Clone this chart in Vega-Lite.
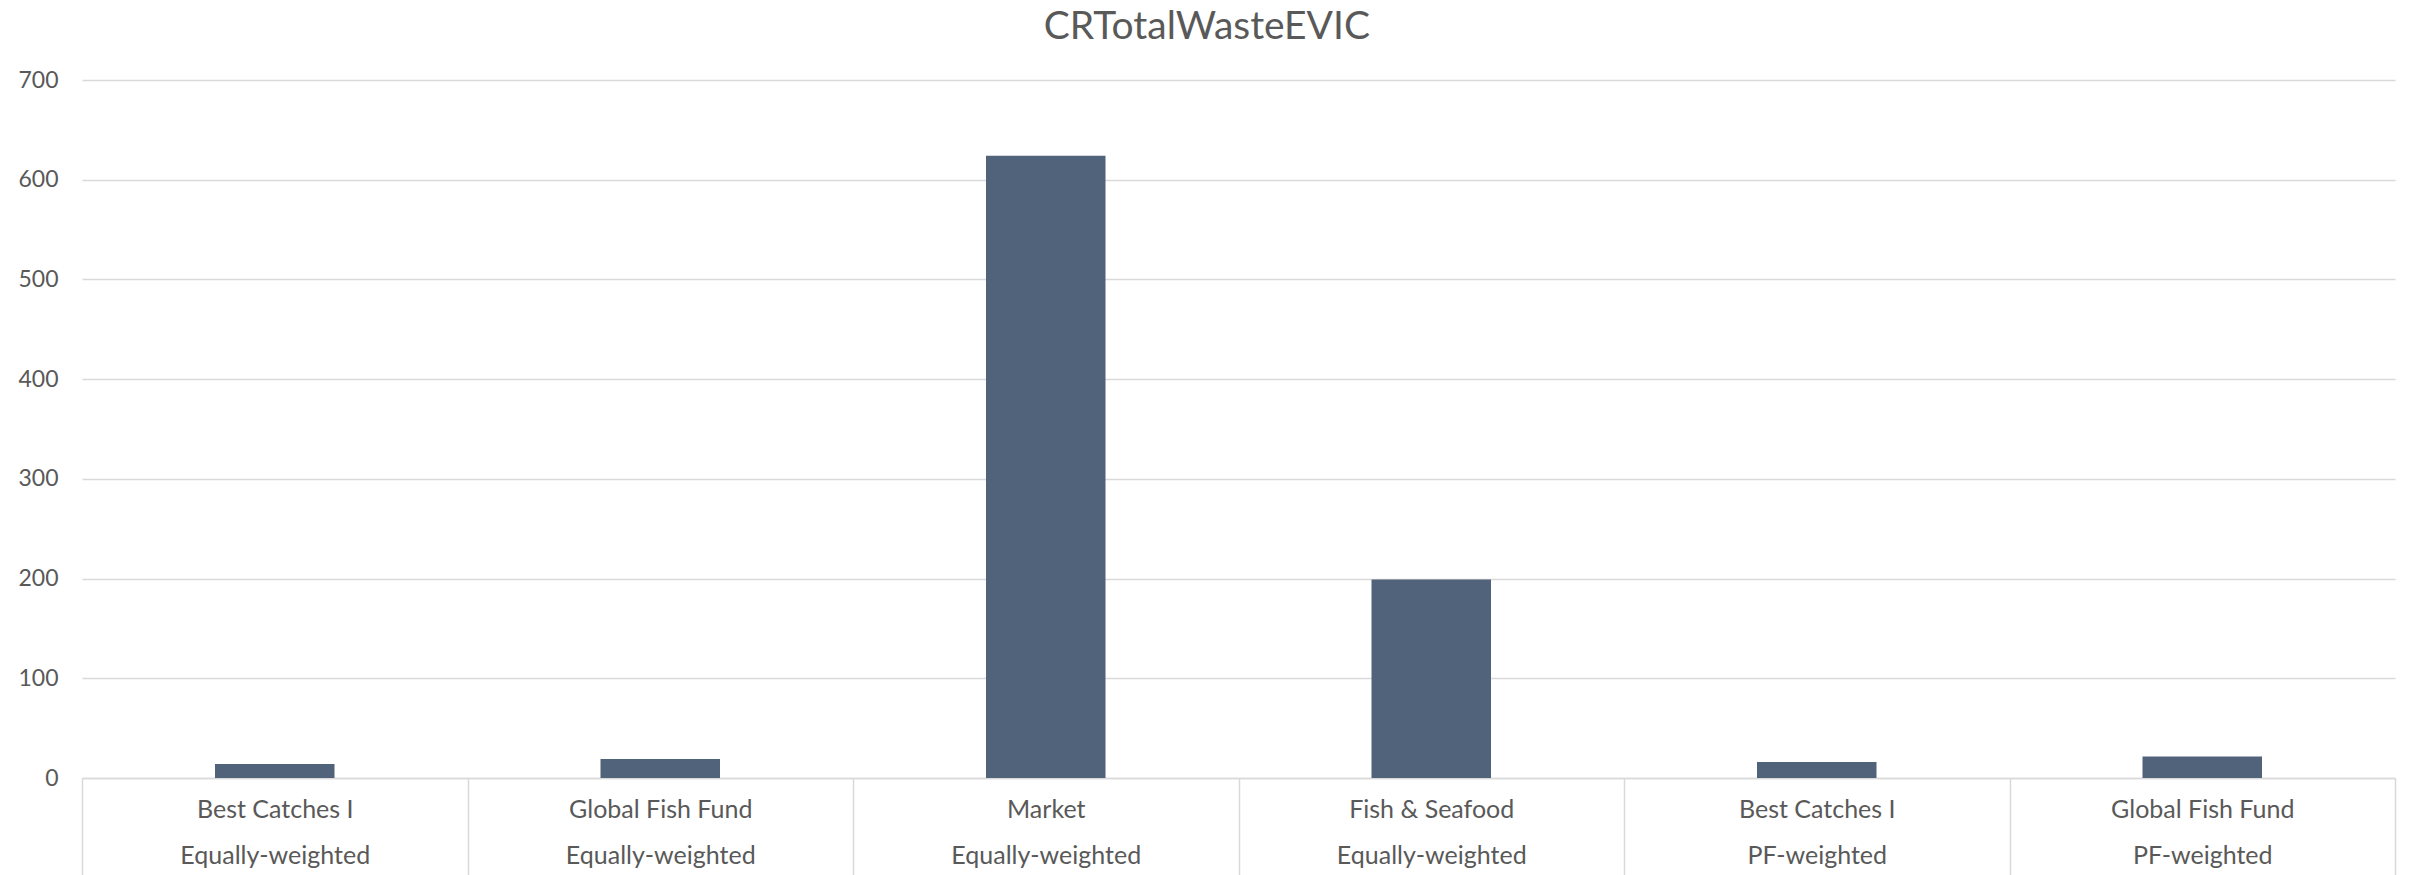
{
  "$schema": "https://vega.github.io/schema/vega-lite/v6.json",
  "width": 2313,
  "height": 698,
  "autosize": {"type": "none"},
  "padding": {"left": 82, "top": 80, "right": 20, "bottom": 97},
  "background": "#ffffff",
  "title": {
    "text": "CRTotalWasteEVIC",
    "frame": "bounds",
    "anchor": "middle",
    "font": "Lato",
    "fontSize": 39,
    "fontWeight": "normal",
    "color": "#595959",
    "offset": 22
  },
  "data": {
    "values": [
      {"category": "Best Catches I|Equally-weighted", "fund": "Best Catches I", "weighting": "Equally-weighted", "value": 14},
      {"category": "Global Fish Fund|Equally-weighted", "fund": "Global Fish Fund", "weighting": "Equally-weighted", "value": 19},
      {"category": "Market|Equally-weighted", "fund": "Market", "weighting": "Equally-weighted", "value": 624},
      {"category": "Fish & Seafood|Equally-weighted", "fund": "Fish & Seafood", "weighting": "Equally-weighted", "value": 199},
      {"category": "Best Catches I|PF-weighted", "fund": "Best Catches I", "weighting": "PF-weighted", "value": 16},
      {"category": "Global Fish Fund|PF-weighted", "fund": "Global Fish Fund", "weighting": "PF-weighted", "value": 21.5}
    ]
  },
  "mark": {"type": "bar", "color": "#51637a", "width": {"band": 0.31}},
  "encoding": {
    "x": {
      "field": "category",
      "type": "nominal",
      "sort": null,
      "scale": {"paddingInner": 0, "paddingOuter": 0},
      "axis": {
        "title": null,
        "labelAngle": 0,
        "labelExpr": "split(datum.label, '|')",
        "labelFont": "Lato",
        "labelFontSize": 25,
        "labelColor": "#595959",
        "labelLineHeight": 46,
        "labelPadding": -78,
        "labelLimit": 0,
        "tickBand": "extent",
        "tickSize": 97,
        "tickColor": "#d9d9d9",
        "tickWidth": 1.5,
        "domainColor": "#d9d9d9",
        "domainWidth": 1.5,
        "grid": false
      }
    },
    "y": {
      "field": "value",
      "type": "quantitative",
      "scale": {"domain": [0, 700], "nice": false},
      "axis": {
        "title": null,
        "values": [0, 100, 200, 300, 400, 500, 600, 700],
        "domain": false,
        "ticks": false,
        "labelPadding": 24,
        "labelFont": "Lato",
        "labelFontSize": 23,
        "labelColor": "#595959",
        "gridColor": "#d9d9d9",
        "gridWidth": 1.5
      }
    }
  },
  "config": {"view": {"stroke": null}}
}
